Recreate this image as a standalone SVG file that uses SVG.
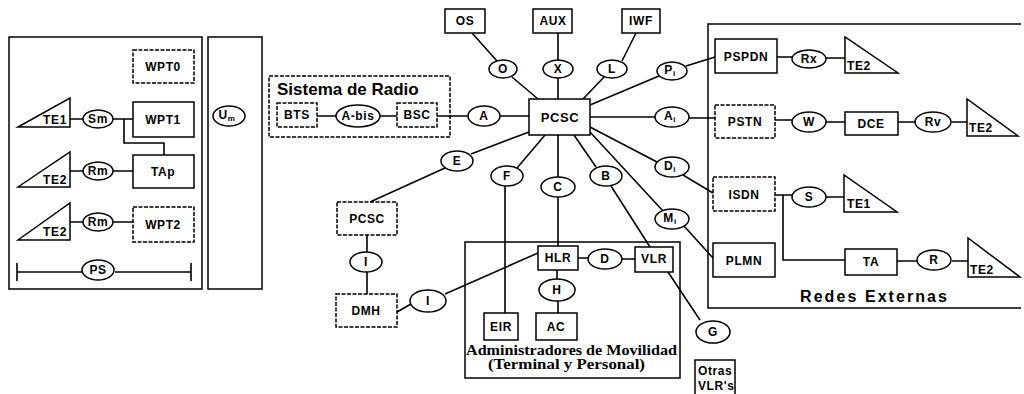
<svg xmlns="http://www.w3.org/2000/svg" width="1024" height="394" viewBox="0 0 1024 394">
<style>
.b{fill:#fff;stroke:#000;stroke-width:1.5}
.d{stroke-dasharray:4 1.5}
.p{fill:none;stroke:#000;stroke-width:1.5}
.l{fill:none;stroke:#000;stroke-width:1.6}
.t{font-family:"Liberation Sans",Arial,sans-serif;font-weight:bold;font-size:12px;text-anchor:middle;dominant-baseline:central;letter-spacing:0.6px}
.s{text-anchor:start}
.sub{font-size:8px}
.ti{font-family:"Liberation Sans",Arial,sans-serif;font-weight:bold;font-size:17px}
.ad{font-family:"Liberation Serif","Times New Roman",serif;font-weight:bold;font-size:14px}
</style>
<rect width="1024" height="394" fill="#fff"/>

<g id="panels">
<rect class="p" x="9" y="37" width="193" height="252"/>
<rect class="p" x="208" y="37" width="54" height="252"/>
<rect class="p d" x="269" y="76" width="181" height="61"/>
<path class="p" d="M1021,24 H708 V308 H1021"/>
<rect class="p" x="465" y="242" width="215" height="136"/>
</g>

<g id="connectors">
<path class="l" d="M70,119 H83 M113,119 H133 M124,119 V143 H164 V155 M70,171 H83 M113,171 H133 M70,222 H83 M113,222 H133"/>
<path class="l" d="M17,272 H82 M115,272 H191 M17,263 V281 M191,263 V281"/>
<path class="l" d="M317,116 H336 M380,116 H397 M437,116 H468 M500,116 H529"/>
<path class="l" d="M472,33 L497,61 M512,77 L538,99 M558,33 V60 M558,78 V99 M636,33 L622,61 M605,76 L583,99 M659,76 L590,105 M686,66 L715,57"/>
<path class="l" d="M777,57 H792 M826,58 H845"/>
<path class="l" d="M590,117 H655 M689,118 H715 M775,120 H792 M826,122 H845 M898,122 H915 M952,122 H967"/>
<path class="l" d="M590,127 L657,162 M683,175 L713,193 M775,195 H792 M826,197 H844 M783,195 V260 H845 M897,261 H917 M952,261 H968"/>
<path class="l" d="M590,132 L663,211 M684,226 L713,258"/>
<path class="l" d="M574,135 L596,167 M611,186 L650,247"/>
<path class="l" d="M558,135 V177 M558,197 V246"/>
<path class="l" d="M545,135 L517,168 M505,185 V313"/>
<path class="l" d="M529,132 L471,154 M445,168 L370,202"/>
<path class="l" d="M367,235 V252 M367,272 V294 M397,312 L411,304 M445,294 L538,253"/>
<path class="l" d="M578,258 H588 M622,259 H635 M557,270 V279 M558,301 V313 M668,272 L700,320"/>
</g>

<g id="WPT0"><rect class="b d" x="133" y="50" width="61" height="33"/><text class="t" x="163" y="67">WPT0</text></g>
<g id="TE1a"><polygon class="b" points="18,127 70,98 70,127"/><text class="t" x="55" y="120">TE1</text></g>
<g id="Sm"><ellipse class="b" cx="98" cy="119" rx="15" ry="9"/><text class="t" x="98" y="119">Sm</text></g>
<g id="WPT1"><rect class="b" x="133" y="102" width="61" height="35"/><text class="t" x="163" y="120">WPT1</text></g>
<g id="TE2a"><polygon class="b" points="18,187 70,152 70,187"/><text class="t" x="55" y="180">TE2</text></g>
<g id="Rm1"><ellipse class="b" cx="98" cy="171" rx="15" ry="9"/><text class="t" x="98" y="171">Rm</text></g>
<g id="TAp"><rect class="b" x="133" y="155" width="61" height="33"/><text class="t" x="163" y="172">TAp</text></g>
<g id="TE2b"><polygon class="b" points="18,240 70,203 70,240"/><text class="t" x="55" y="232">TE2</text></g>
<g id="Rm2"><ellipse class="b" cx="98" cy="222" rx="15" ry="9"/><text class="t" x="98" y="222">Rm</text></g>
<g id="WPT2"><rect class="b d" x="133" y="207" width="61" height="35"/><text class="t" x="163" y="225">WPT2</text></g>
<g id="PS"><ellipse class="b" cx="98" cy="270" rx="16" ry="10"/><text class="t" x="98" y="270">PS</text></g>

<g id="Um"><ellipse class="b" cx="229" cy="116" rx="16" ry="10"/><text class="t" x="227" y="115">U<tspan class="sub" dy="3">m</tspan></text></g>

<g id="radio">
<text class="ti" x="277" y="95">Sistema de Radio</text>
</g>
<g id="BTS"><rect class="b d" x="277" y="103" width="40" height="24"/><text class="t" x="297" y="115">BTS</text></g>
<g id="Abis"><ellipse class="b" cx="358" cy="116" rx="22" ry="11"/><text class="t" x="358" y="116">A-bis</text></g>
<g id="BSC"><rect class="b d" x="397" y="103" width="40" height="24"/><text class="t" x="417" y="115">BSC</text></g>
<g id="A"><ellipse class="b" cx="484" cy="116" rx="16" ry="10"/><text class="t" x="484" y="116">A</text></g>

<g id="PCSC"><rect class="b" x="529" y="99" width="61" height="36"/><text class="t" x="560" y="117" style="font-size:13px">PCSC</text></g>
<g id="OS"><rect class="b" x="445" y="9" width="40" height="24"/><text class="t" x="465" y="21">OS</text></g>
<g id="AUX"><rect class="b" x="533" y="9" width="39" height="24"/><text class="t" x="553" y="21">AUX</text></g>
<g id="IWF"><rect class="b" x="622" y="9" width="38" height="24"/><text class="t" x="641" y="21">IWF</text></g>
<g id="O"><ellipse class="b" cx="503" cy="69" rx="14" ry="9"/><text class="t" x="503" y="69">O</text></g>
<g id="X"><ellipse class="b" cx="558" cy="69" rx="15" ry="9"/><text class="t" x="558" y="69">X</text></g>
<g id="L"><ellipse class="b" cx="612" cy="69" rx="15" ry="9"/><text class="t" x="612" y="69">L</text></g>
<g id="Pi"><ellipse class="b" cx="672" cy="71" rx="15" ry="9"/><text class="t" x="670" y="70">P<tspan class="sub" dy="3">i</tspan></text></g>
<g id="Ai"><ellipse class="b" cx="672" cy="117" rx="17" ry="10"/><text class="t" x="670" y="116">A<tspan class="sub" dy="3">i</tspan></text></g>
<g id="Di"><ellipse class="b" cx="672" cy="167" rx="17" ry="10"/><text class="t" x="670" y="166">D<tspan class="sub" dy="3">i</tspan></text></g>
<g id="Mi"><ellipse class="b" cx="672" cy="219" rx="17" ry="10"/><text class="t" x="670" y="218">M<tspan class="sub" dy="3">i</tspan></text></g>

<g id="PSPDN"><rect class="b" x="715" y="39" width="62" height="34"/><text class="t" x="746" y="57">PSPDN</text></g>
<g id="Rx"><ellipse class="b" cx="809" cy="59" rx="17" ry="9"/><text class="t" x="809" y="59">Rx</text></g>
<g id="TE2c"><polygon class="b" points="845,37 845,73 898,73"/><text class="t s" x="847" y="66">TE2</text></g>
<g id="PSTN"><rect class="b d" x="715" y="105" width="60" height="33"/><text class="t" x="745" y="122">PSTN</text></g>
<g id="W"><ellipse class="b" cx="809" cy="122" rx="17" ry="10"/><text class="t" x="809" y="122">W</text></g>
<g id="DCE"><rect class="b" x="845" y="112" width="53" height="23"/><text class="t" x="871" y="124">DCE</text></g>
<g id="Rv"><ellipse class="b" cx="933" cy="122" rx="18" ry="10"/><text class="t" x="933" y="122">Rv</text></g>
<g id="TE2d"><polygon class="b" points="967,99 967,136 1018,136"/><text class="t s" x="969" y="128">TE2</text></g>
<g id="ISDN"><rect class="b d" x="713" y="177" width="62" height="34"/><text class="t" x="744" y="195">ISDN</text></g>
<g id="S"><ellipse class="b" cx="809" cy="197" rx="17" ry="10"/><text class="t" x="809" y="197">S</text></g>
<g id="TE1b"><polygon class="b" points="844,175 844,212 897,212"/><text class="t s" x="847" y="204">TE1</text></g>
<g id="PLMN"><rect class="b" x="713" y="243" width="62" height="34"/><text class="t" x="744" y="261">PLMN</text></g>
<g id="TA"><rect class="b" x="845" y="249" width="52" height="26"/><text class="t" x="871" y="262">TA</text></g>
<g id="R"><ellipse class="b" cx="934" cy="260" rx="17" ry="10"/><text class="t" x="934" y="260">R</text></g>
<g id="TE2e"><polygon class="b" points="968,238 968,277 1020,277"/><text class="t s" x="970" y="270">TE2</text></g>
<text x="800" y="302" style="font-family:'Liberation Sans',Arial,sans-serif;font-weight:bold;font-size:16px" textLength="147" lengthAdjust="spacing">Redes Externas</text>

<g id="E"><ellipse class="b" cx="457" cy="161" rx="16" ry="10"/><text class="t" x="457" y="161">E</text></g>
<g id="F"><ellipse class="b" cx="507" cy="176" rx="16" ry="10"/><text class="t" x="507" y="176">F</text></g>
<g id="C"><ellipse class="b" cx="558" cy="187" rx="17" ry="10"/><text class="t" x="558" y="187">C</text></g>
<g id="B"><ellipse class="b" cx="606" cy="176" rx="16" ry="10"/><text class="t" x="606" y="176">B</text></g>
<g id="PCSC2"><rect class="b d" x="337" y="202" width="60" height="33"/><text class="t" x="367" y="219">PCSC</text></g>
<g id="I1"><ellipse class="b" cx="366" cy="262" rx="16" ry="10"/><text class="t" x="366" y="262">I</text></g>
<g id="DMH"><rect class="b d" x="336" y="294" width="61" height="33"/><text class="t" x="366" y="311">DMH</text></g>
<g id="I2"><ellipse class="b" cx="428" cy="301" rx="18" ry="11"/><text class="t" x="428" y="301">I</text></g>
<g id="HLR"><rect class="b" x="538" y="246" width="40" height="24"/><text class="t" x="558" y="258">HLR</text></g>
<g id="D"><ellipse class="b" cx="605" cy="259" rx="17" ry="10"/><text class="t" x="605" y="259">D</text></g>
<g id="VLR"><rect class="b" x="635" y="247" width="38" height="25"/><text class="t" x="654" y="259">VLR</text></g>
<g id="H"><ellipse class="b" cx="557" cy="290" rx="18" ry="11"/><text class="t" x="557" y="290">H</text></g>
<g id="EIR"><rect class="b" x="484" y="313" width="34" height="27"/><text class="t" x="501" y="327">EIR</text></g>
<g id="AC"><rect class="b" x="536" y="313" width="41" height="27"/><text class="t" x="556" y="327">AC</text></g>
<g id="admin">
<text class="ad" x="466" y="355" textLength="211" lengthAdjust="spacingAndGlyphs">Administradores de Movilidad</text>
<text class="ad" x="488" y="369" textLength="157" lengthAdjust="spacingAndGlyphs">(Terminal y Personal)</text>
</g>
<g id="G"><ellipse class="b" cx="713" cy="332" rx="17" ry="11"/><text class="t" x="713" y="332">G</text></g>
<g id="Otras"><rect class="b" x="695" y="360" width="40" height="36"/><text class="t s" x="698" y="371">Otras</text><text class="t s" x="698" y="386">VLR's</text></g>
</svg>
